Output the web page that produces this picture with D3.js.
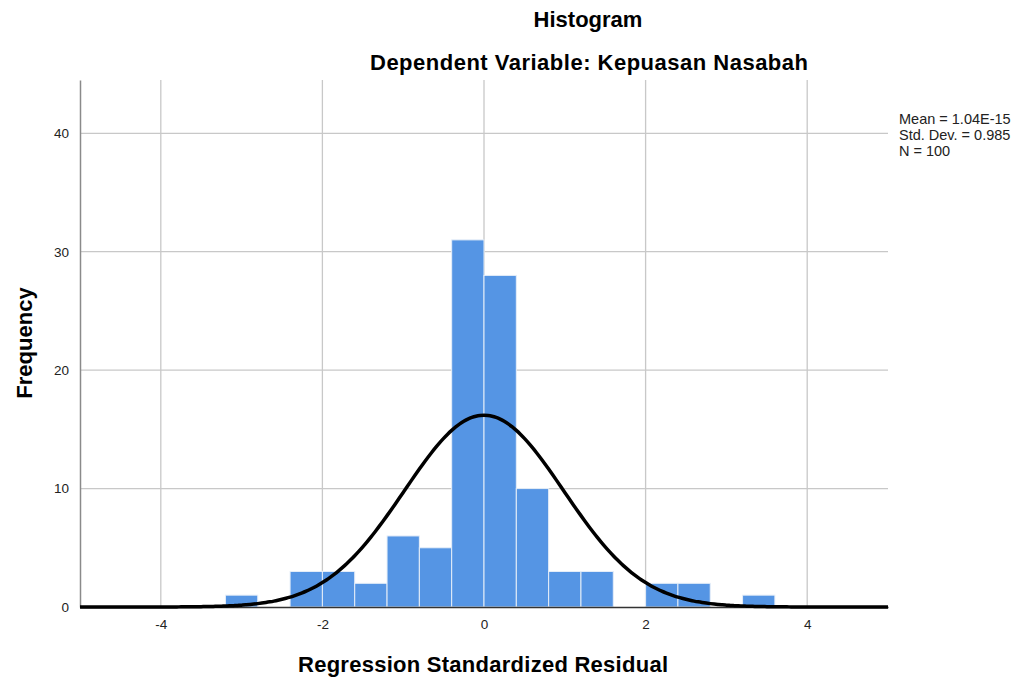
<!DOCTYPE html>
<html lang="en">
<head>
<meta charset="UTF-8">
<title>Histogram</title>
<script src="https://d3js.org/d3.v7.min.js"></script>
<style>
  body { margin: 0; background: #fff; }
  svg { font-family: "Liberation Sans", Arial, sans-serif; }
</style>
</head>
<body>
<div id="chart"></div>
<script>
// bin edges (lower bound) and counts, bin width 0.4
var binStarts = [-3.2, -2.4, -2.0, -1.6, -1.2, -0.8, -0.4, 0.0, 0.4, 0.8, 1.2, 2.0, 2.4, 3.2];
var counts    = [1, 3, 3, 2, 6, 5, 31, 28, 10, 3, 3, 2, 2, 1];
var binWidth = 0.4;
var xTicks = [-4, -2, 0, 2, 4];
var yTicks = [0, 10, 20, 30, 40];
var statLines = ["Mean = 1.04E-15", "Std. Dev. = 0.985", "N = 100"];
var mean = 1.04e-15, sd = 0.985, n = 100;

var width = 1019, height = 682;
var margin = {left: 80, right: 131, top: 80, bottom: 75};

var svg = d3.select("#chart").append("svg")
    .attr("width", width)
    .attr("height", height);

var x = d3.scaleLinear().domain([-5, 5]).range([margin.left, width - margin.right]);
var y = d3.scaleLinear().domain([0, 44.5]).range([height - margin.bottom, margin.top]);

// grid
svg.append("g").selectAll("line").data(xTicks).join("line")
    .attr("x1", d => x(d)).attr("x2", d => x(d))
    .attr("y1", y(0)).attr("y2", margin.top)
    .attr("stroke", "#c8c8c8").attr("stroke-width", 1.3);
svg.append("g").selectAll("line").data(yTicks.slice(1)).join("line")
    .attr("x1", margin.left).attr("x2", width - margin.right)
    .attr("y1", d => y(d)).attr("y2", d => y(d))
    .attr("stroke", "#c8c8c8").attr("stroke-width", 1.3);

// bars
svg.append("g").selectAll("rect").data(counts).join("rect")
    .attr("x", (d, i) => x(binStarts[i]))
    .attr("width", (d, i) => x(binStarts[i] + binWidth) - x(binStarts[i]))
    .attr("y", d => y(d))
    .attr("height", d => y(0) - y(d))
    .attr("fill", "#5595e4")
    .attr("stroke", "#e6eef8").attr("stroke-width", 1);

// axes
var xAxis = svg.append("g")
    .attr("transform", "translate(0," + y(0) + ")")
    .call(d3.axisBottom(x).tickValues(xTicks).tickSize(0).tickPadding(12).tickFormat(d => String(d)));
xAxis.select(".domain").attr("stroke", "#333").attr("stroke-width", 1.5);
xAxis.selectAll("text").attr("font-size", 13.5).attr("fill", "#222")
    .style("font-family", "Liberation Sans, Arial, sans-serif");

var yAxis = svg.append("g")
    .attr("transform", "translate(" + margin.left + ",0)")
    .call(d3.axisLeft(y).tickValues(yTicks).tickSize(0).tickPadding(11));
yAxis.select(".domain").attr("stroke", "#8a8a8a").attr("stroke-width", 1.5);
yAxis.selectAll("text").attr("font-size", 13.5).attr("fill", "#222")
    .style("font-family", "Liberation Sans, Arial, sans-serif");

// normal curve from mean, sd, n
var curvePts = d3.range(-5, 5.0001, 0.05).map(function(v) {
    var z = (v - mean) / sd;
    return [v, n * binWidth * Math.exp(-0.5 * z * z) / (sd * Math.sqrt(2 * Math.PI))];
});
svg.append("path")
    .datum(curvePts)
    .attr("fill", "none")
    .attr("stroke", "#000")
    .attr("stroke-width", 3.5)
    .attr("d", d3.line().x(d => x(d[0])).y(d => y(d[1])).curve(d3.curveBasis));

// titles
svg.append("text").attr("x", 588).attr("y", 27).attr("text-anchor", "middle")
    .attr("font-size", 22).attr("font-weight", "bold").text("Histogram");
svg.append("text").attr("x", 589).attr("y", 70).attr("text-anchor", "middle")
    .attr("font-size", 22).attr("font-weight", "bold")
    .attr("textLength", 438).attr("lengthAdjust", "spacing")
    .text("Dependent Variable: Kepuasan Nasabah");

svg.append("text").attr("x", 483).attr("y", 672).attr("text-anchor", "middle")
    .attr("font-size", 22).attr("font-weight", "bold")
    .attr("textLength", 370).attr("lengthAdjust", "spacing")
    .text("Regression Standardized Residual");
svg.append("text").attr("transform", "translate(32," + 343 + ") rotate(-90)")
    .attr("text-anchor", "middle")
    .attr("font-size", 22).attr("font-weight", "bold").text("Frequency");

// stats box
svg.append("g").selectAll("text").data(statLines).join("text")
    .attr("x", 899).attr("y", (d, i) => 124 + i * 16)
    .attr("font-size", 14.5).attr("fill", "#222").text(d => d);
</script>
</body>
</html>
